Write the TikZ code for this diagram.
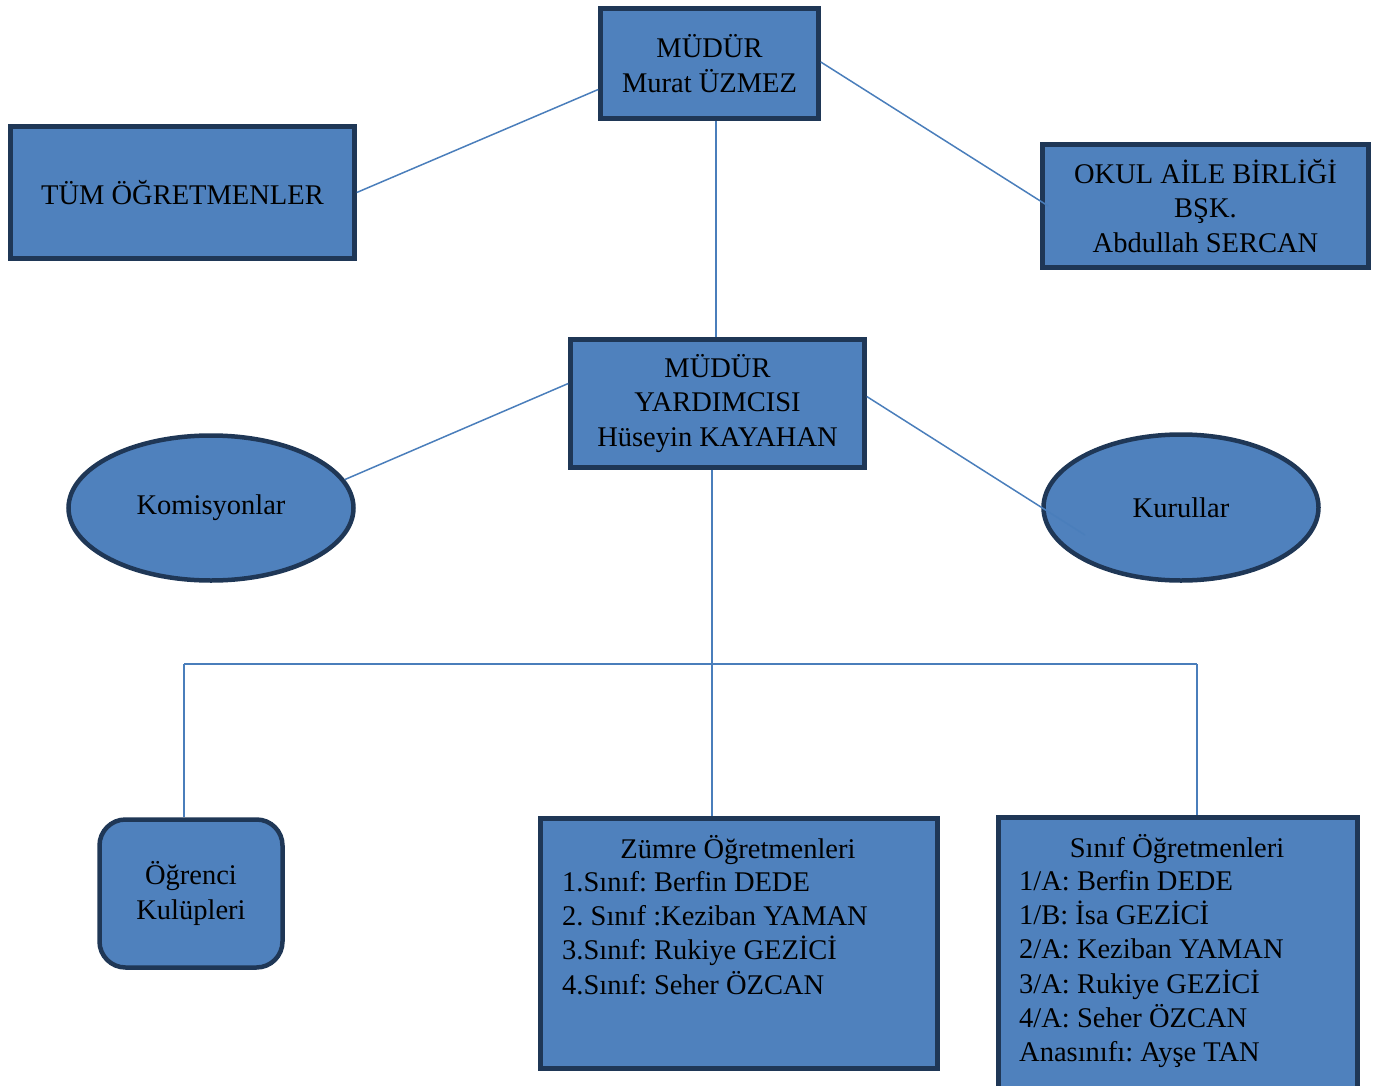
\documentclass[tikz,border=0pt]{standalone}
\usepackage{fontspec}
\setmainfont{Liberation Serif}
\usetikzlibrary{shapes.geometric}
\definecolor{fillb}{HTML}{4F81BD}
\definecolor{edgeb}{HTML}{1F3756}
\definecolor{lineb}{HTML}{4A7EBB}
\newcommand\txtfs{\fontsize{28.5}{34.3}\selectfont\frenchspacing}
\begin{document}
\begin{tikzpicture}[x=1pt,y=-1pt,
  box/.style={draw=edgeb,line width=4.5pt,fill=fillb,inner sep=0pt,align=center,font=\txtfs,text=black},
  oval/.style={box,ellipse},
  conn/.style={draw=lineb,line width=1.5pt},
  lbl/.style={inner sep=0pt,font=\txtfs,text=black,align=left}]
\useasboundingbox (0,0) rectangle (1391,1086);
% boxes
\node[box,minimum width=218pt,minimum height=110pt] (mudur) at (709.5,63.5) {MÜDÜR\\Murat ÜZMEZ};
\node[box,minimum width=344pt,minimum height=132pt] (tum) at (182.5,192.5) {TÜM ÖĞRETMENLER};
\node[box,minimum width=326pt,minimum height=123pt] (okul) at (1205.5,206) {OKUL AİLE BİRLİĞİ\\BŞK.\\Abdullah SERCAN};
\node[box,minimum width=294pt,minimum height=128pt] (my) at (717.5,403.5) {MÜDÜR\\YARDIMCISI\\Hüseyin KAYAHAN};
\node[oval,minimum width=285pt,minimum height=145pt] (kom) at (211,508) {Komisyonlar};
\node[oval,minimum width=275pt,minimum height=146pt] (kur) at (1181,507.5) {Kurullar};
\node[box,rounded corners=26pt,minimum width=183pt,minimum height=148pt] (ogr) at (191,893.5) {Öğrenci\\Kulüpleri};
\node[box,minimum width=397pt,minimum height=250pt] (zum) at (739,943.5) {};
\node[box,minimum width=359pt,minimum height=290pt] (sin) at (1178,962.5) {};
% texts in list boxes
\node[lbl,anchor=base] (zumt) at (738,858) {Zümre Öğretmenleri};
\node[lbl,anchor=north west] (zuml) at (562,871) {1.Sınıf: Berfin DEDE\\2. Sınıf :Keziban YAMAN\\3.Sınıf: Rukiye GEZİCİ\\4.Sınıf: Seher ÖZCAN};
\node[lbl,anchor=base] (sint) at (1177,857) {Sınıf Öğretmenleri};
\node[lbl,anchor=north west] (sinl) at (1019,870) {1/A: Berfin DEDE\\1/B: İsa GEZİCİ\\2/A: Keziban YAMAN\\3/A: Rukiye GEZİCİ\\4/A: Seher ÖZCAN\\Anasınıfı: Ayşe TAN};
% connectors
\coordinate (okin) at ([xshift=8pt]okul.west);
\coordinate (kurin) at ([xshift=-96pt,yshift=-27.5pt]kur.center);
\coordinate (mtop) at (716,121);
\coordinate (trunk) at (712,683);
\coordinate (hj) at (712,664);
\coordinate (hl) at (184,664);
\coordinate (hr) at (1197,664);
\draw[conn] ([yshift=-26pt]mudur.west) -- (tum.east);
\draw[conn] ([yshift=1.5pt]mudur.east) -- (okin);
\draw[conn] (mtop) -- (mtop |- my.north);
\draw[conn] ([yshift=20pt]my.west) -- (kom.12);
\draw[conn] ([yshift=7pt]my.east) -- (kurin);
\draw[conn] ([xshift=-5.5pt]my.south) -- (trunk);
\draw[conn] (hl) -- (hr);
\draw[conn] (hl) -- (hl |- ogr.north);
\draw[conn] (hj) -- (hj |- zum.north);
\draw[conn] (hr) -- (hr |- sin.north);
\end{tikzpicture}
\end{document}
